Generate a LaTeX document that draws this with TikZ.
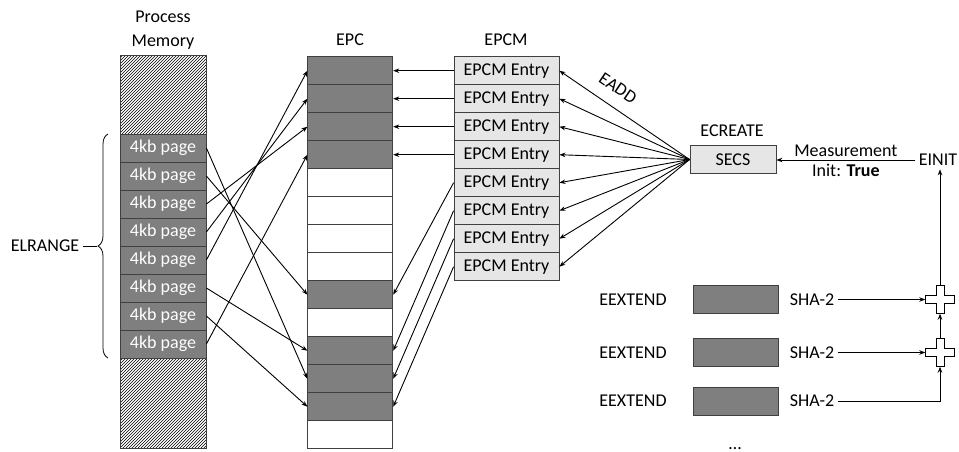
\documentclass[tikz,border=0pt]{standalone}
\usepackage{fontspec}
\setmainfont{Carlito}
\usetikzlibrary{arrows.meta,patterns,decorations.pathreplacing}

\definecolor{pagegray}{HTML}{7F7F7F}
\definecolor{entrygray}{HTML}{E6E6E6}
\definecolor{framegray}{HTML}{404040}

\begin{document}
\begin{tikzpicture}[x=1pt,y=-1pt,
    font=\fontsize{18}{24}\selectfont,
    >={Stealth[length=6pt,width=4.5pt]},
    conn/.style={->,line width=0.9pt},
    rowbox/.style={draw=framegray,line width=0.8pt,minimum width=86pt,minimum height=28pt,inner sep=0pt},
    pagebox/.style={rowbox,fill=pagegray,text=white},
    slotfull/.style={rowbox,fill=pagegray,minimum width=85pt},
    slotfree/.style={rowbox,fill=white,minimum width=85pt},
    entrybox/.style={rowbox,fill=entrygray,minimum width=105pt},
    addbox/.style={minimum width=29pt,minimum height=28pt,inner sep=0pt}]
    \useasboundingbox (0,0) rectangle (959,451);

    \node[align=center] (procmem) at (163,30) {Process\\Memory};
    \node (epclab) at (350,40) {EPC};
    \node (epcmlab) at (506,40) {EPCM};

    \draw[framegray,line width=0.8pt,pattern=north east lines] (120,55) rectangle (206,134);
    \draw[framegray,line width=0.8pt,pattern=north east lines] (120,358) rectangle (206,448);
    \foreach \i in {0,...,7}
        \node[pagebox] (pg\i) at (163,{148+28*\i}) {4kb page};

    \node (elr) at (45,246) {ELRANGE};
    \coordinate (elrtip) at (97,246);
    \draw[line width=0.8pt,decorate,decoration={brace,amplitude=10pt}] (108,358) -- (108,134);
    \draw[line width=0.8pt] (elr.east) -- (elrtip);

    \foreach \r in {0,1,2,3,8,10,11,12}
        \node[slotfull] (epc\r) at (350.3,{70.7+28*\r}) {};
    \foreach \r in {4,5,6,7,9,13}
        \node[slotfree] (epc\r) at (350.3,{70.7+28*\r}) {};

    \foreach \k in {0,...,7}
        \node[entrybox] (ent\k) at (506.5,{70.7+28*\k}) {EPCM Entry};

    \node (ecreate) at (732,131) {ECREATE};
    \node[entrybox,minimum width=86pt] (secs) at (733,159.5) {SECS};
    \node (einit) at (938,160) {EINIT};
    \node[rotate=-34,inner sep=1pt] (eadd) at (618,88) {EADD};

    \foreach \i/\r in {0/11,1/8,2/2,3/1,4/0,5/10,6/12,7/3}
        \draw[conn] (pg\i.east) -- (epc\r.west);
    \foreach \k/\r in {0/0,1/1,2/2,3/3,4/8,5/10,6/11,7/12}
        \draw[conn] (ent\k.west) -- (epc\r.east);
    \foreach \k in {0,...,7}
        \draw[conn] (secs.west) -- (ent\k.east);

    \draw[conn] (einit.west) -- (einit.west -| secs.east)
        node[midway,above] {Measurement}
        node[midway,below] {Init: \textbf{True}};

    \foreach \n/\y in {1/299.5,2/352.5,3/401}{
        \node (ext\n) at (633,\y) {EEXTEND};
        \node[slotfull] (blk\n) at (735.5,\y) {};
        \node (sha\n) at (812,\y) {SHA-2};
    }
    \node[anchor=base,inner sep=0pt] (more) at (735,449) {\dots};

    \node[addbox] (add1) at (940,299.5) {};
    \node[addbox] (add2) at (940,352.5) {};
    \foreach \a in {add1,add2}
        \draw[line width=0.8pt,fill=white,shift={(\a.center)}] (-14.5,-4) -- (-4,-4) -- (-4,-14)
        -- (4,-14) -- (4,-4) -- (14.5,-4) -- (14.5,4) -- (4,4) -- (4,14) -- (-4,14)
        -- (-4,4) -- (-14.5,4) -- cycle;

    \draw[conn] (sha1.east) -- (add1.west);
    \draw[conn] (sha2.east) -- (add2.west);
    \draw[conn] (sha3.east) -| (add2.south);
    \draw[conn] (add2.north) -- (add1.south);
    \draw[conn] (add1.north) -- (add1.north |- einit.south);
\end{tikzpicture}
\end{document}
